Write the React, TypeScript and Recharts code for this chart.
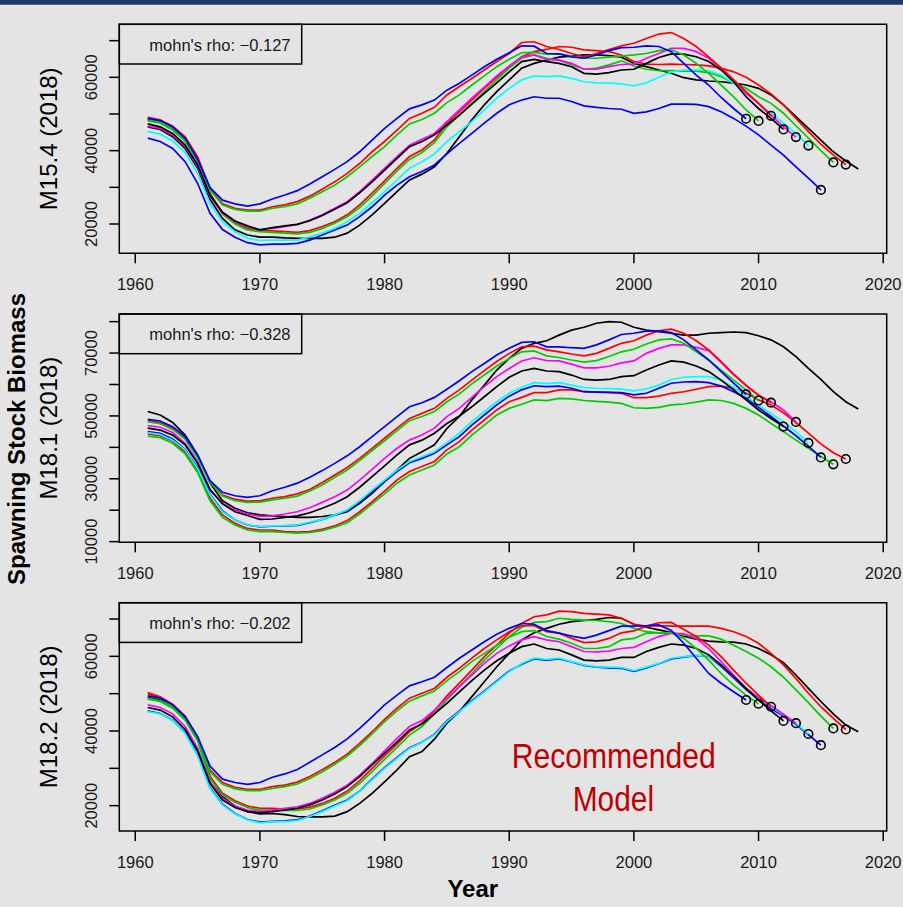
import React from 'react';
import { LineChart, Line, XAxis, YAxis, ReferenceArea } from 'recharts';

// Retrospective spawning stock biomass (thousand t), one run per terminal year.
// Every run starts in 1961.
const firstYear = 1961;
const terminalYears = [2018, 2017, 2016, 2015, 2014, 2013, 2012, 2011, 2010, 2009];
const runColours = ['#000000', '#FF0000', '#00CD00', '#0000FF', '#00FFFF', '#FF00FF', '#000000', '#FF0000', '#00CD00', '#0000FF'];
const yearTicks = [1960, 1970, 1980, 1990, 2000, 2010, 2020];

// ---- M15.4 (2018)
const m154_2018 = [46.5, 45.8, 43.8, 40.6, 35.2, 26.7, 21.5, 18.4, 17.0, 16.4, 16.4, 16.2, 16.1, 16.1, 16.1, 16.4, 17.5, 19.7, 22.5, 25.6, 28.8, 32.0, 33.6, 35.6, 39.3, 43.8, 48.4, 52.5, 56.1, 59.3, 62.5, 63.8, 64.7, 65.5, 65.8, 66.1, 66.1, 65.9, 65.5, 63.8, 62.9, 62.0, 61.1, 59.9, 59.3, 59.0, 58.8, 58.4, 57.9, 57.0, 55.2, 52.5, 49.3, 46.1, 42.9, 39.7, 37.2, 35.0];
const m154_2017 = [48.6, 47.9, 46.1, 42.9, 37.5, 28.4, 22.9, 20.4, 18.8, 18.2, 18.1, 17.9, 17.7, 18.2, 19.3, 20.6, 22.5, 25.2, 28.4, 31.8, 35.2, 38.4, 40.2, 42.9, 47.5, 50.6, 53.8, 57.0, 60.0, 62.9, 65.6, 67.0, 67.6, 68.4, 68.2, 67.5, 67.3, 67.0, 66.1, 64.3, 63.6, 63.5, 63.6, 63.5, 63.4, 63.1, 62.5, 61.5, 60.0, 57.9, 55.5, 52.5, 48.8, 45.2, 41.8, 38.8, 36.2];
const m154_2016 = [48.1, 47.5, 45.6, 42.5, 37.0, 28.2, 22.7, 20.0, 18.4, 17.9, 17.7, 17.5, 17.3, 17.7, 18.8, 20.2, 22.0, 24.5, 27.6, 31.1, 34.5, 37.6, 39.5, 42.2, 46.5, 49.7, 52.9, 56.1, 59.3, 62.5, 65.2, 66.1, 65.2, 64.7, 63.4, 62.2, 62.5, 63.4, 64.5, 63.1, 62.2, 61.8, 61.8, 61.7, 61.7, 61.3, 60.2, 58.4, 57.0, 54.7, 52.9, 50.2, 46.8, 43.4, 40.0, 36.8];
const m154_2015 = [43.4, 42.5, 40.6, 37.0, 31.1, 22.9, 18.5, 16.4, 14.9, 14.3, 14.5, 14.5, 14.7, 15.6, 17.0, 18.4, 19.7, 22.0, 24.7, 27.9, 30.6, 32.9, 34.3, 36.1, 39.1, 42.0, 44.7, 47.5, 50.2, 52.5, 53.8, 54.7, 54.3, 54.3, 53.4, 52.2, 51.8, 51.5, 51.3, 50.2, 50.6, 51.5, 52.7, 52.7, 52.6, 52.0, 50.6, 48.8, 46.7, 44.3, 41.5, 38.8, 35.6, 32.5, 29.3];
const m154_2014 = [45.2, 44.5, 42.7, 39.5, 33.8, 25.5, 20.6, 17.9, 16.1, 15.5, 15.6, 15.6, 15.6, 16.5, 17.5, 18.8, 20.6, 22.9, 25.8, 28.8, 32.0, 35.2, 37.0, 39.1, 42.5, 45.2, 47.9, 51.1, 54.3, 57.0, 59.3, 60.4, 60.2, 60.4, 59.7, 58.8, 58.5, 58.4, 58.2, 57.7, 58.5, 60.0, 61.5, 62.0, 62.0, 61.8, 60.6, 58.4, 55.6, 52.9, 50.2, 47.5, 44.7, 41.4];
const m154_2013 = [46.7, 46.1, 44.3, 41.1, 35.6, 27.5, 22.9, 20.6, 19.3, 18.4, 18.8, 19.3, 19.9, 21.1, 22.5, 24.3, 26.1, 28.8, 32.0, 35.2, 38.4, 41.5, 43.1, 44.7, 47.9, 51.1, 54.3, 57.3, 60.4, 63.1, 65.6, 66.1, 64.9, 64.7, 63.8, 62.2, 62.2, 62.9, 63.5, 63.6, 65.2, 66.5, 67.9, 67.9, 67.0, 65.2, 62.5, 59.3, 55.6, 52.9, 49.7, 46.5, 43.7];
const m154_2012 = [47.3, 46.5, 44.7, 41.5, 36.1, 27.9, 23.2, 20.8, 19.5, 18.4, 19.0, 19.5, 19.9, 20.9, 22.3, 24.0, 25.8, 28.5, 31.5, 34.7, 37.9, 41.1, 42.5, 44.3, 47.0, 49.7, 52.7, 55.6, 58.5, 61.5, 64.3, 64.9, 64.3, 63.8, 62.9, 61.1, 60.9, 61.3, 62.0, 62.2, 63.8, 65.4, 66.4, 66.3, 65.6, 64.3, 62.0, 58.8, 54.7, 51.5, 48.8, 45.8];
const m154_2011 = [49.1, 48.4, 46.7, 43.8, 38.4, 29.7, 25.5, 24.3, 23.8, 23.8, 24.7, 25.2, 26.1, 27.6, 29.5, 31.5, 33.8, 36.5, 39.7, 42.5, 45.6, 48.8, 50.2, 51.8, 55.2, 57.5, 59.7, 62.0, 64.3, 66.5, 69.5, 69.7, 68.4, 67.6, 66.5, 65.6, 66.5, 67.6, 68.6, 69.3, 70.6, 71.8, 72.2, 70.6, 68.4, 65.6, 62.5, 59.3, 56.1, 52.9, 49.5];
const m154_2010 = [48.4, 47.8, 46.3, 43.1, 37.5, 29.3, 25.2, 24.0, 23.5, 23.5, 24.3, 24.7, 25.5, 27.0, 28.8, 30.6, 32.9, 35.6, 38.4, 41.1, 44.3, 47.3, 48.5, 50.2, 53.1, 55.2, 57.9, 60.4, 62.9, 64.9, 66.7, 66.8, 66.3, 66.4, 65.8, 65.2, 65.2, 65.5, 65.8, 66.1, 66.5, 67.3, 67.5, 66.1, 63.8, 61.1, 57.9, 54.7, 51.1, 48.1];
const m154_2009 = [48.8, 48.2, 46.5, 43.4, 37.6, 29.9, 26.5, 25.5, 24.9, 25.5, 26.8, 27.9, 29.1, 30.9, 32.9, 34.9, 37.0, 39.7, 42.9, 46.1, 48.8, 51.4, 52.5, 53.8, 56.5, 58.4, 60.6, 62.9, 64.9, 66.7, 68.6, 68.5, 66.5, 66.4, 65.6, 65.2, 66.1, 67.3, 68.1, 68.2, 68.6, 68.4, 67.0, 63.8, 60.6, 57.9, 54.5, 51.5, 48.7];

// ---- M18.1 (2018)
const m181_2018 = [51.4, 50.3, 47.9, 43.9, 37.6, 28.6, 23.0, 20.6, 19.2, 18.5, 18.2, 18.0, 17.7, 17.7, 18.0, 18.5, 19.5, 22.2, 25.4, 29.1, 32.8, 36.5, 38.6, 40.8, 46.0, 49.8, 55.1, 59.8, 64.6, 68.3, 71.5, 73.1, 73.9, 75.7, 77.3, 78.2, 79.5, 80.0, 79.8, 78.2, 77.3, 76.8, 76.3, 75.7, 75.7, 76.3, 76.5, 76.7, 76.5, 75.5, 74.2, 72.0, 68.9, 65.1, 61.6, 57.7, 54.5, 52.2];
const m181_2017 = [44.3, 43.7, 42.0, 38.6, 32.8, 23.8, 18.5, 15.8, 14.2, 13.7, 13.7, 13.2, 13.0, 13.2, 13.9, 15.0, 16.7, 19.5, 22.7, 26.1, 29.6, 32.3, 33.9, 35.5, 39.2, 41.8, 45.5, 48.7, 51.9, 54.5, 55.9, 57.4, 57.4, 58.3, 58.3, 57.7, 57.6, 57.5, 57.2, 55.8, 55.8, 56.3, 57.2, 57.7, 58.5, 59.3, 59.5, 58.8, 57.2, 55.1, 53.5, 51.0, 47.9, 44.5, 41.1, 38.3, 36.3];
const m181_2016 = [43.6, 43.1, 41.3, 37.9, 32.0, 23.0, 17.7, 15.3, 13.7, 13.2, 13.2, 12.9, 12.7, 12.9, 13.5, 14.6, 16.0, 18.8, 22.0, 25.2, 28.6, 31.2, 32.8, 34.4, 37.9, 40.2, 43.9, 47.1, 50.3, 52.4, 53.7, 55.1, 54.9, 55.6, 55.4, 54.9, 54.6, 54.4, 54.0, 52.6, 52.4, 52.7, 53.5, 53.8, 54.4, 55.1, 54.9, 54.0, 52.4, 50.3, 47.6, 45.0, 42.3, 39.7, 37.1, 34.6];
const m181_2015 = [45.0, 44.5, 42.7, 39.4, 33.5, 25.1, 19.8, 16.9, 15.3, 14.7, 14.9, 15.0, 15.2, 16.0, 17.1, 18.4, 19.9, 22.7, 25.9, 29.1, 32.3, 35.1, 36.5, 38.1, 40.8, 43.4, 47.1, 50.3, 53.5, 56.3, 58.3, 59.6, 59.3, 59.5, 58.8, 57.7, 57.6, 57.5, 57.4, 56.7, 57.2, 58.8, 60.4, 60.8, 60.9, 60.6, 59.5, 57.7, 55.6, 52.7, 49.8, 46.8, 43.7, 40.4, 36.8];
const m181_2014 = [44.7, 44.1, 42.3, 39.2, 33.3, 24.8, 19.5, 16.9, 15.3, 14.8, 15.0, 15.1, 15.3, 16.2, 17.1, 18.5, 20.1, 23.0, 26.4, 29.6, 32.8, 35.5, 37.0, 38.6, 41.5, 44.5, 48.2, 51.4, 54.5, 57.2, 59.1, 60.6, 60.3, 60.6, 59.8, 59.0, 58.8, 58.7, 58.5, 58.0, 58.6, 59.8, 61.6, 62.3, 62.5, 62.5, 61.4, 59.1, 56.3, 53.4, 50.8, 48.1, 45.0, 41.4];
const m181_2013 = [46.9, 46.4, 44.7, 41.3, 35.5, 26.4, 22.2, 20.1, 18.8, 18.0, 18.2, 18.8, 19.5, 20.8, 22.5, 24.3, 26.4, 29.6, 33.0, 36.5, 39.7, 42.3, 43.9, 46.1, 49.8, 52.4, 55.9, 59.3, 62.5, 65.1, 67.5, 68.5, 67.6, 67.5, 66.5, 65.3, 65.3, 65.8, 66.9, 67.5, 69.9, 71.5, 72.6, 72.6, 71.8, 70.8, 67.0, 63.1, 59.6, 56.6, 54.5, 51.9, 48.1];
const m181_2012 = [46.1, 45.5, 43.9, 40.8, 34.9, 26.6, 22.0, 19.5, 18.3, 17.1, 17.2, 17.7, 18.2, 19.2, 20.6, 22.2, 24.3, 27.3, 30.7, 34.1, 37.6, 40.8, 42.3, 44.5, 47.6, 50.0, 52.9, 56.1, 59.3, 62.3, 64.3, 65.1, 64.3, 64.1, 63.0, 61.6, 61.4, 61.6, 62.5, 62.8, 64.6, 66.2, 67.5, 67.1, 65.9, 64.1, 61.4, 58.3, 55.1, 51.9, 49.2, 46.6];
const m181_2011 = [48.5, 47.9, 46.1, 42.9, 37.0, 29.1, 24.8, 23.5, 22.9, 23.0, 23.8, 24.3, 25.2, 26.6, 28.8, 31.2, 33.6, 36.5, 39.7, 42.9, 46.1, 49.2, 50.8, 52.4, 55.6, 58.3, 61.4, 64.4, 67.3, 69.9, 72.0, 72.2, 71.0, 70.4, 69.7, 69.1, 69.9, 71.5, 73.1, 73.9, 75.7, 77.1, 77.6, 76.3, 73.9, 71.0, 67.3, 63.3, 59.8, 56.6, 54.2];
const m181_2010 = [48.2, 47.5, 45.7, 42.6, 36.7, 28.8, 24.5, 23.0, 22.5, 22.6, 23.3, 23.8, 24.5, 26.1, 28.0, 30.5, 32.8, 35.8, 39.0, 42.1, 45.3, 48.5, 49.8, 51.4, 54.5, 57.0, 60.2, 63.0, 65.9, 68.3, 70.4, 70.7, 69.1, 68.6, 67.8, 67.1, 67.6, 68.9, 70.4, 71.2, 72.9, 74.2, 74.5, 73.1, 70.4, 67.8, 64.6, 61.4, 58.3, 54.9];
const m181_2009 = [48.9, 48.4, 46.6, 43.4, 37.6, 29.4, 25.7, 24.6, 24.1, 24.6, 26.2, 27.3, 28.6, 30.5, 32.6, 34.9, 37.3, 40.2, 43.4, 46.6, 49.8, 52.9, 54.2, 55.9, 58.5, 61.2, 64.1, 66.7, 69.4, 71.5, 73.4, 73.6, 72.0, 72.0, 71.7, 71.5, 72.6, 74.2, 75.9, 76.3, 77.0, 77.1, 76.5, 74.2, 71.0, 67.8, 64.1, 60.4, 56.9];

// ---- M18.2 (2018)
const m182_2018 = [49.0, 48.3, 46.3, 43.1, 37.6, 27.8, 22.4, 19.9, 18.4, 17.8, 17.9, 17.6, 17.1, 17.0, 17.0, 17.2, 18.4, 20.6, 23.3, 26.4, 29.6, 33.1, 34.5, 37.8, 42.1, 45.2, 49.2, 53.2, 57.2, 60.8, 64.4, 66.3, 67.5, 68.6, 69.3, 69.6, 69.9, 70.4, 70.2, 68.6, 67.8, 67.1, 66.4, 65.4, 64.6, 64.1, 63.9, 63.8, 63.3, 62.1, 60.4, 58.3, 55.0, 51.4, 47.9, 44.6, 41.6, 39.8];
const m182_2017 = [49.9, 49.0, 47.0, 43.7, 38.0, 27.8, 23.3, 21.3, 19.9, 19.3, 19.3, 19.1, 19.1, 19.6, 20.6, 22.0, 23.9, 26.7, 30.0, 33.3, 36.5, 39.8, 42.1, 45.4, 49.4, 52.8, 56.3, 59.9, 63.0, 66.2, 68.8, 70.6, 71.1, 72.1, 72.0, 71.5, 71.3, 71.1, 70.2, 68.6, 68.1, 68.2, 68.1, 68.1, 68.1, 68.1, 67.5, 66.6, 65.3, 63.5, 60.8, 57.7, 54.1, 50.1, 46.5, 43.4, 40.4];
const m182_2016 = [48.5, 47.9, 46.1, 42.9, 37.4, 27.3, 22.9, 20.9, 19.5, 18.8, 18.8, 18.7, 18.7, 19.1, 20.2, 21.5, 23.3, 26.0, 29.1, 32.4, 35.6, 38.9, 41.2, 44.6, 48.3, 51.9, 55.4, 59.0, 62.1, 65.3, 67.8, 69.1, 69.3, 70.2, 69.9, 69.7, 69.6, 69.3, 68.8, 67.5, 66.6, 66.3, 66.2, 65.7, 65.5, 65.5, 64.6, 63.0, 61.3, 59.5, 57.2, 54.4, 51.0, 47.6, 44.0, 40.7];
const m182_2015 = [45.4, 44.7, 42.9, 39.6, 33.6, 24.8, 20.4, 17.9, 16.3, 15.6, 15.8, 15.9, 16.2, 17.2, 18.6, 20.1, 21.5, 23.9, 27.1, 30.2, 32.9, 35.5, 37.0, 39.1, 42.7, 45.4, 48.1, 50.7, 53.4, 56.1, 57.9, 59.3, 59.0, 59.3, 58.5, 57.6, 57.1, 56.9, 56.8, 56.0, 56.9, 58.0, 59.3, 59.8, 60.2, 60.0, 57.3, 54.2, 51.1, 48.4, 46.0, 44.0, 41.8, 39.0, 36.2];
const m182_2014 = [45.2, 44.6, 42.8, 39.4, 33.4, 24.6, 20.2, 17.8, 16.2, 15.4, 15.7, 15.7, 16.0, 17.1, 18.4, 19.9, 21.3, 23.8, 26.9, 30.0, 32.7, 35.4, 36.9, 38.9, 42.5, 45.2, 47.9, 50.5, 53.2, 55.9, 58.1, 59.5, 59.2, 59.5, 58.6, 57.7, 57.2, 57.1, 57.0, 56.2, 57.1, 58.1, 59.5, 59.9, 60.2, 60.1, 57.7, 54.6, 51.4, 48.8, 46.5, 44.3, 42.1, 39.2];
const m182_2013 = [47.0, 46.3, 44.6, 41.2, 35.4, 26.4, 22.0, 19.9, 18.8, 18.4, 18.8, 19.3, 19.7, 20.6, 22.0, 23.6, 25.5, 28.2, 31.3, 34.7, 38.0, 41.2, 42.8, 45.6, 48.8, 51.9, 55.0, 58.1, 60.8, 62.8, 64.4, 65.3, 64.4, 63.9, 62.6, 61.3, 61.2, 61.4, 62.1, 62.4, 63.9, 65.3, 66.2, 66.0, 64.8, 62.1, 58.6, 55.0, 51.4, 49.0, 46.8, 44.5, 42.1];
const m182_2012 = [46.3, 45.6, 43.8, 40.4, 34.7, 26.0, 21.5, 19.5, 18.4, 18.1, 18.4, 18.8, 19.3, 20.2, 21.5, 23.1, 25.1, 27.8, 30.9, 34.0, 37.1, 40.3, 41.9, 44.6, 47.4, 50.5, 53.5, 56.3, 58.8, 60.8, 62.6, 63.3, 62.1, 61.7, 60.4, 59.0, 58.8, 59.0, 59.7, 59.7, 61.3, 62.4, 63.3, 63.0, 62.1, 60.4, 57.7, 54.6, 51.4, 48.3, 45.4, 42.7];
const m182_2011 = [50.3, 49.2, 47.2, 44.0, 38.5, 29.6, 26.2, 24.9, 24.4, 24.4, 25.1, 25.5, 26.3, 27.8, 29.6, 31.6, 33.8, 36.7, 39.8, 43.1, 46.1, 48.8, 50.1, 51.4, 54.4, 56.8, 59.5, 62.1, 64.4, 66.6, 68.2, 68.2, 66.6, 66.2, 64.8, 63.7, 63.9, 64.8, 66.3, 66.8, 68.1, 69.0, 69.1, 67.2, 65.3, 63.0, 59.9, 56.3, 52.8, 49.6, 46.5];
const m182_2010 = [48.8, 48.1, 46.5, 43.4, 38.0, 29.1, 25.7, 24.5, 24.0, 24.0, 24.6, 25.1, 25.8, 27.3, 29.0, 31.1, 33.3, 36.1, 39.2, 42.5, 45.4, 48.0, 49.4, 50.7, 53.5, 55.9, 58.6, 60.8, 63.0, 65.1, 66.6, 66.9, 65.3, 64.6, 63.5, 62.1, 62.1, 62.6, 64.4, 64.8, 66.2, 66.3, 66.3, 64.8, 62.1, 59.0, 55.4, 52.3, 49.6, 47.3];
const m182_2009 = [49.4, 48.8, 47.0, 43.8, 38.5, 30.6, 27.1, 26.2, 25.7, 26.2, 27.6, 28.5, 29.7, 31.6, 33.6, 35.6, 37.9, 40.7, 43.8, 47.0, 49.6, 52.1, 53.2, 54.4, 57.0, 59.5, 61.7, 63.9, 65.9, 67.5, 68.8, 68.6, 66.9, 66.2, 65.4, 64.8, 65.7, 66.9, 68.1, 68.1, 68.2, 68.4, 66.9, 63.5, 59.5, 55.4, 52.8, 50.5, 48.3];

const FONT = "'Liberation Sans', Arial, Helvetica, sans-serif";
const W = 903;
const PLOT_LEFT = 119.3;
const PLOT_RIGHT = 886.7;
const X_DOMAIN = [1958.72, 2020.28];

const panels = [
  {
    title: 'M15.4 (2018)', rho: '\u22120.127',
    runs: [m154_2018, m154_2017, m154_2016, m154_2015, m154_2014, m154_2013, m154_2012, m154_2011, m154_2010, m154_2009],
    chartTop: 0, top: 24.3, bottom: 253.3, yDomain: [12.01, 74.46],
    yTicks: [20, 30, 40, 50, 60, 70], yLabels: [20, 40, 60],
  },
  {
    title: 'M18.1 (2018)', rho: '\u22120.328',
    runs: [m181_2018, m181_2017, m181_2016, m181_2015, m181_2014, m181_2013, m181_2012, m181_2011, m181_2010, m181_2009],
    chartTop: 290, top: 314, bottom: 542.3, yDomain: [9.79, 82.43],
    yTicks: [10, 20, 30, 40, 50, 60, 70, 80], yLabels: [10, 30, 50, 70],
  },
  {
    title: 'M18.2 (2018)', rho: '\u22120.202',
    runs: [m182_2018, m182_2017, m182_2016, m182_2015, m182_2014, m182_2013, m182_2012, m182_2011, m182_2010, m182_2009],
    chartTop: 580, top: 602.7, bottom: 831, yDomain: [13.21, 74.37],
    yTicks: [20, 30, 40, 50, 60, 70], yLabels: [20, 40, 60],
  },
];

const CHART_H = 300;
const AXIS_H = 40;
const AXIS_W = 40;

function toPoints(values: number[]) {
  return values.map((ssb, i) => ({ year: firstYear + i, ssb }));
}

function Panel({ p }: { p: (typeof panels)[number] }) {
  const marginTop = p.top - p.chartTop;
  const marginBottom = CHART_H - (p.bottom - p.chartTop) - AXIS_H;
  const labelBaseline = p.bottom - p.chartTop + 36.7;

  const xTick = (props: any) => (
    <text x={props.x} y={labelBaseline} textAnchor="middle" fontSize={16.5} fontFamily={FONT} fill="#1a1a1a">
      {props.payload.value}
    </text>
  );

  // only every other tick carries a label
  const yTick = (props: any) => {
    const v = props.payload.value;
    if (!p.yLabels.includes(v)) return <g />;
    return (
      <text transform={`translate(96.5 ${props.y}) rotate(-90)`} textAnchor="middle" fontSize={16.5} fontFamily={FONT} fill="#1a1a1a">
        {Math.round(v * 1000)}
      </text>
    );
  };

  return (
    <div style={{ position: 'absolute', left: 0, top: p.chartTop, width: W, height: CHART_H }}>
      <LineChart
        width={W}
        height={CHART_H}
        margin={{ top: marginTop, right: W - PLOT_RIGHT, bottom: marginBottom, left: PLOT_LEFT - AXIS_W }}
      >
        <XAxis
          type="number"
          dataKey="year"
          domain={X_DOMAIN}
          ticks={yearTicks}
          interval={0}
          allowDataOverflow
          height={AXIS_H}
          axisLine={false}
          tickSize={10}
          tickLine={{ stroke: '#000', strokeWidth: 1.5 }}
          tick={xTick}
        />
        <YAxis
          type="number"
          dataKey="ssb"
          domain={p.yDomain}
          ticks={p.yTicks}
          interval={0}
          allowDataOverflow
          width={AXIS_W}
          axisLine={false}
          tickSize={10}
          tickLine={{ stroke: '#000', strokeWidth: 1.5 }}
          tick={yTick}
        />
        <ReferenceArea
          x1={X_DOMAIN[0]}
          x2={X_DOMAIN[1]}
          y1={p.yDomain[0]}
          y2={p.yDomain[1]}
          fill="none"
          stroke="#000"
          strokeWidth={1.5}
          ifOverflow="visible"
        />
        {p.runs.map((run, k) => {
          const pts = toPoints(run);
          const last = pts.length - 1;
          return (
            <Line
              key={terminalYears[k]}
              data={pts}
              dataKey="ssb"
              type="linear"
              stroke={runColours[k]}
              strokeWidth={1.7}
              isAnimationActive={false}
              activeDot={false}
              dot={(d: any) =>
                k > 0 && d.index === last ? (
                  <circle key={`e${k}`} cx={d.cx} cy={d.cy} r={4.3} fill="none" stroke="#000" strokeWidth={1.6} />
                ) : (
                  <g key={`n${k}-${d.index}`} />
                )
              }
            />
          );
        })}
      </LineChart>
    </div>
  );
}

export default function App() {
  return (
    <div style={{ position: 'absolute', left: 0, top: 0, width: W, height: 907, background: '#e4e4e4', overflow: 'hidden' }}>
      {panels.map((p) => (
        <Panel key={p.title} p={p} />
      ))}
      <svg width={W} height={907} style={{ position: 'absolute', left: 0, top: 0, pointerEvents: 'none' }}>
        <rect x={0} y={0} width={W} height={4.7} fill="#203864" />
        {panels.map((p) => (
          <g key={p.title}>
            <rect x={PLOT_LEFT} y={p.top} width={182.4} height={39.7} fill="none" stroke="#000" strokeWidth={1.5} />
            <text x={149.3} y={p.top + 26.2} fontSize={16.5} fontFamily={FONT} fill="#1a1a1a">
              mohn's rho: {p.rho}
            </text>
            <text
              transform={`translate(56.7 ${(p.top + p.bottom) / 2}) rotate(-90)`}
              textAnchor="middle"
              fontSize={24}
              fontFamily={FONT}
              fill="#000"
            >
              {p.title}
            </text>
          </g>
        ))}
        <text
          transform="translate(24.5 439) rotate(-90)"
          textAnchor="middle"
          fontSize={24}
          fontWeight="bold"
          fontFamily={FONT}
          fill="#000"
        >
          Spawning Stock Biomass
        </text>
        <text x={472.8} y={897.3} textAnchor="middle" fontSize={24} fontWeight="bold" fontFamily={FONT} fill="#000">
          Year
        </text>
        <text x={613.7} y={767.7} textAnchor="middle" fontSize={35} fontFamily={FONT} fill="#C00000" textLength={204} lengthAdjust="spacingAndGlyphs">
          Recommended
        </text>
        <text x={613.4} y={810.7} textAnchor="middle" fontSize={35} fontFamily={FONT} fill="#C00000" textLength={81.3} lengthAdjust="spacingAndGlyphs">
          Model
        </text>
      </svg>
    </div>
  );
}
